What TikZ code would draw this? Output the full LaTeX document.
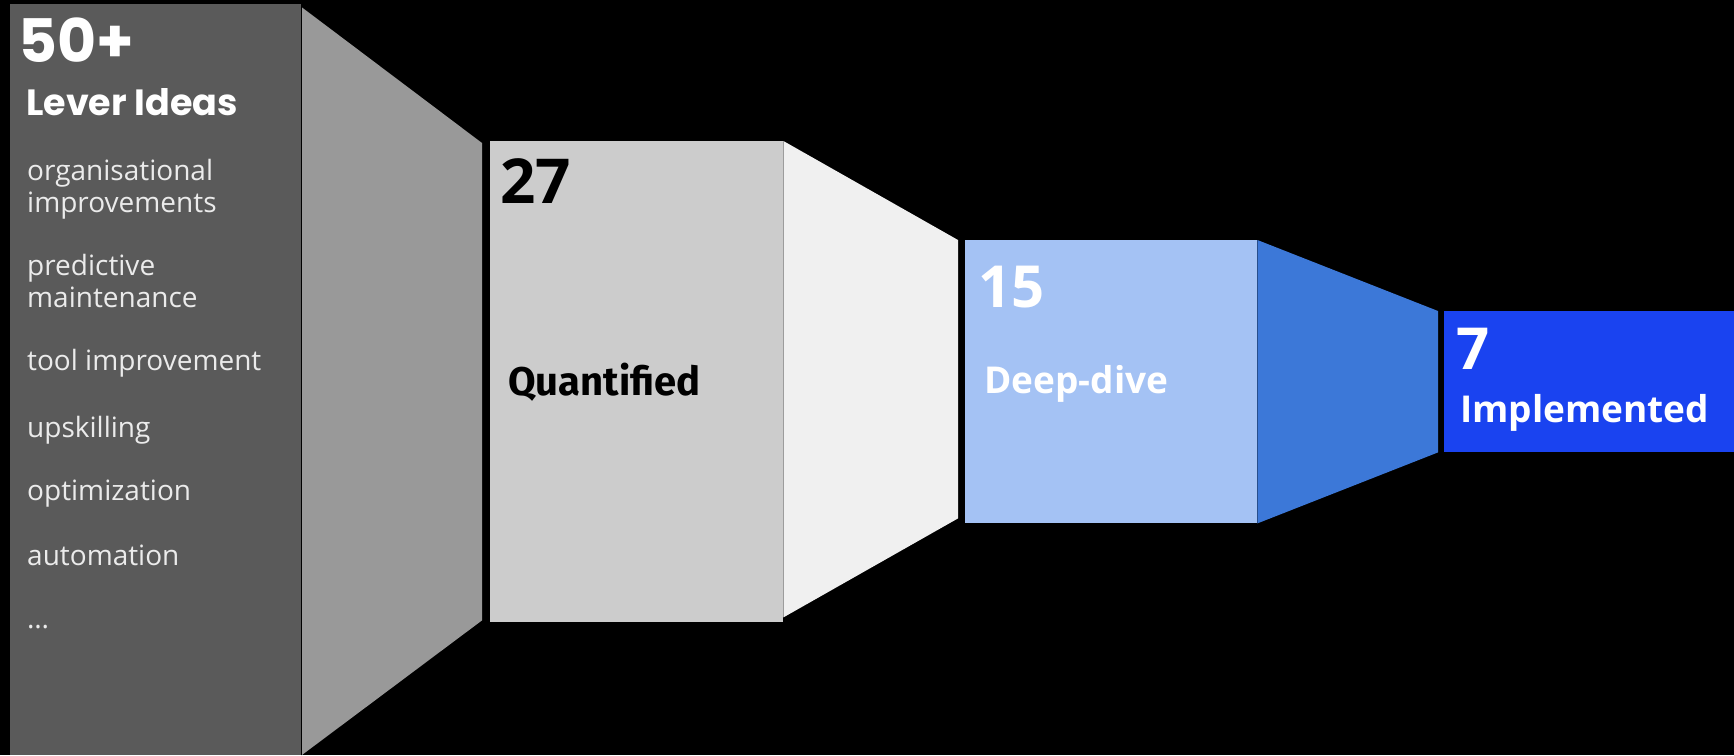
\documentclass[tikz,border=0pt]{standalone}
\usepackage{fontspec}
\setmainfont{Open Sans}
\newfontfamily\headfont{Poppins}
\newfontfamily\titlefont{Fira Sans}
\usetikzlibrary{positioning}

\definecolor{leverGrey}{HTML}{5A5A5A}
\definecolor{leverFunnel}{HTML}{999999}
\definecolor{quantGrey}{HTML}{CCCCCC}
\definecolor{quantFunnel}{HTML}{F0F0F0}
\definecolor{diveBlue}{HTML}{A4C2F4}
\definecolor{diveFunnel}{HTML}{3C78D8}
\definecolor{implBlue}{HTML}{1A43F0}

\tikzset{
  stage/.style={rectangle, draw=none, inner sep=0pt, anchor=north west},
  txt/.style={inner sep=0pt, anchor=base west},
  idea/.style={txt, text=white!92!black, align=left, font=\fontsize{28}{32}\selectfont},
  count/.style={txt, font=\bfseries\fontsize{58}{58}\selectfont},
  title/.style={txt, font=\bfseries\fontsize{37}{37}\selectfont}
}

\begin{document}
\begin{tikzpicture}[x=1pt, y=-1pt]

\fill[black] (0,0) rectangle (1734,755);
\useasboundingbox (0,0) rectangle (1734,755);

% stages of the funnel
\node[stage, fill=leverGrey, minimum width=291, minimum height=751] (lever) at (10,4) {};
\node[stage, fill=quantGrey, minimum width=293, minimum height=481] (quant) at (490,141) {};
\node[stage, fill=diveBlue, minimum width=292, minimum height=283] (dive) at (965,240) {};
\node[stage, fill=implBlue, minimum width=290, minimum height=141] (impl) at (1444,311) {};

% funnel sides
\fill[leverFunnel] ([yshift=-3pt]lever.north east) -- ([xshift=-8pt,yshift=-2pt]quant.north west)
  -- ([xshift=-8pt,yshift=2pt]quant.south west) -- (lever.south east) -- cycle;
\fill[quantFunnel] (quant.north east) -- ([xshift=-7pt]dive.north west)
  -- ([xshift=-7pt,yshift=5pt]dive.south west) -- ([yshift=5pt]quant.south east) -- cycle;
\fill[diveFunnel] (dive.north east) -- ([xshift=-6pt]impl.north west)
  -- ([xshift=-6pt]impl.south west) -- (dive.south east) -- cycle;
\draw[black, line width=1.5pt] (lever.north east) -- (lever.south east);

% lever ideas
\node[txt, text=white, font=\headfont\bfseries\fontsize{60}{60}\selectfont] (leverCount) at (18,62) {50+};
\node[txt, text=white, font=\headfont\bfseries\fontsize{36.5}{36.5}\selectfont] (leverTitle) at (26,115) {Lever Ideas};
\node[idea] (idea1) at (27,212) {organisational\\improvements};% base is the last line
\node[idea] (idea2) at (27,307) {predictive\\maintenance};
\node[idea] (idea3) at (27,370) {tool improvement};
\node[idea] (idea4) at (27,437) {upskilling};
\node[idea] (idea5) at (27,500) {optimization};
\node[idea] (idea6) at (27,565) {automation};
\node[idea] (idea7) at (27,628) {…};

% quantified
\node[count, font=\bfseries\fontsize{62}{62}\selectfont] (quantCount) at (500,203) {27};
\node[txt, font=\titlefont\bfseries\fontsize{40}{40}\selectfont] (quantTitle) at (508,395) {Quantified};

% deep-dive
\node[count, text=white] (diveCount) at (978,307) {15};
\node[title, text=white] (diveTitle) at (984,393) {Deep-dive};

% implemented
\node[count, text=white] (implCount) at (1456,369) {7};
\node[title, text=white] (implTitle) at (1460,422) {Implemented};
\end{tikzpicture}
\end{document}
